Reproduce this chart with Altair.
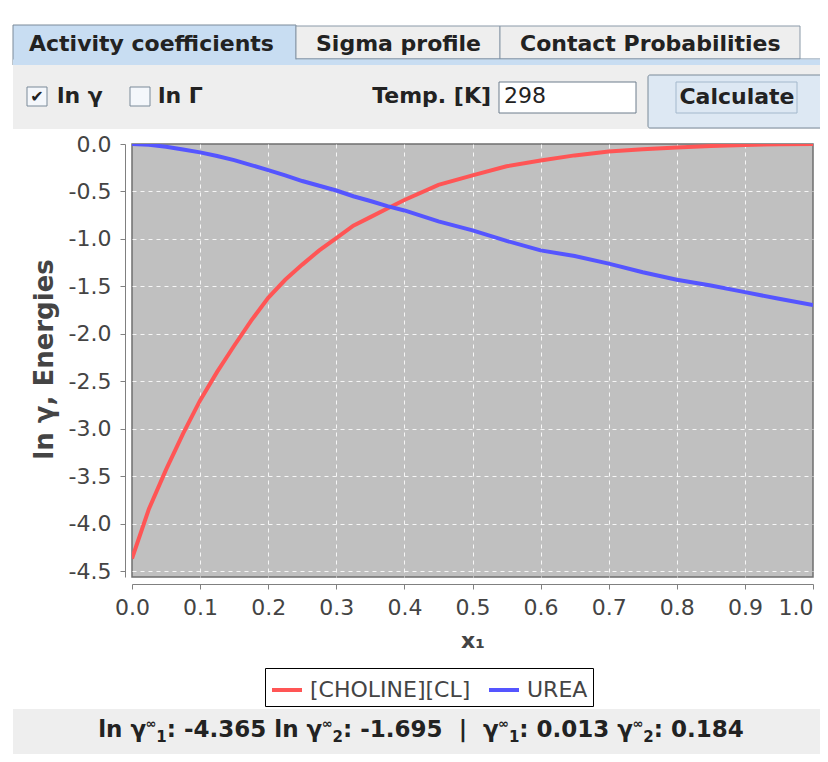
import altair as alt
import pandas as pd

# ---------------- data ----------------
names = ["[CHOLINE][CL]", "UREA"]
colors = ["#ff5555", "#5555ff"]

x1 = [0.0, 0.025, 0.05, 0.075, 0.10, 0.125, 0.15, 0.175, 0.20, 0.225, 0.25,
      0.275, 0.30, 0.325, 0.35, 0.375, 0.40, 0.45, 0.50, 0.55, 0.60, 0.65,
      0.70, 0.75, 0.80, 0.85, 0.90, 0.95, 1.0]
ln_gamma_choline = [-4.365, -3.84, -3.43, -3.05, -2.70, -2.40, -2.125, -1.86,
                    -1.62, -1.43, -1.27, -1.12, -0.99, -0.86, -0.77, -0.68,
                    -0.59, -0.43, -0.33, -0.235, -0.174, -0.12, -0.08, -0.055,
                    -0.038, -0.022, -0.01, -0.003, 0.0]
ln_gamma_urea = [0.0, -0.008, -0.03, -0.057, -0.088, -0.126, -0.17, -0.222,
                 -0.275, -0.33, -0.39, -0.44, -0.49, -0.55, -0.60, -0.655,
                 -0.70, -0.815, -0.91, -1.02, -1.12, -1.18, -1.26, -1.35,
                 -1.43, -1.49, -1.56, -1.63, -1.695]

x_ticks = [0.0, 0.1, 0.2, 0.3, 0.4, 0.5, 0.6, 0.7, 0.8, 0.9, 1.0]
y_ticks = [-4.5, -4.0, -3.5, -3.0, -2.5, -2.0, -1.5, -1.0, -0.5, 0.0]
y_domain = [-4.56, 0.0]

ln_gamma_inf = [-4.365, -1.695]
gamma_inf = [0.013, 0.184]

tab_labels = ["Activity coefficients", "Sigma profile", "Contact Probabilities"]
check_labels = ["ln γ", "ln Γ"]
temp_label = "Temp. [K]"
temp_value = "298"
button_label = "Calculate"

# ---------------- layout helpers ----------------
FONT = "DejaVu Sans"
OX, OY = 132, 144          # window position of the plot origin
W, H = 681, 433            # plot area
TOTAL_W, TOTAL_H = 812, 746
PAD = {"left": OX - 8, "top": OY - 8,
       "right": TOTAL_W - (OX - 8) - W, "bottom": TOTAL_H - (OY - 8) - H}


def px(v):
    return v - OX


def py(v):
    return v - OY


one = pd.DataFrame({"k": [0]})


def box(xa, xb, ya, yb, fill, stroke=None, sw=1.0, radius=0, fill_opacity=1.0):
    kw = dict(fill=fill, fillOpacity=fill_opacity, cornerRadius=radius)
    if stroke:
        kw.update(stroke=stroke, strokeWidth=sw)
    return alt.Chart(one).mark_rect(**kw).encode(
        x=alt.value(px(xa)), x2=alt.value(px(xb)),
        y=alt.value(py(ya)), y2=alt.value(py(yb)))


def txt(s, x, y, size=22, bold=True, align="left", color="#222222",
        baseline="alphabetic"):
    return alt.Chart(one).mark_text(
        text=s, align=align, baseline=baseline, font=FONT, fontSize=size,
        fontWeight="bold" if bold else "normal", color=color
    ).encode(x=alt.value(px(x)), y=alt.value(py(y)))


# ---------------- GUI chrome ----------------
chrome = [
    box(13, 296, 25, 65, "#c8ddf2", "#7a8a99"),
    box(296, 500, 26, 59, "#eeeeee", "#8a99a8"),
    box(500, 800, 26, 59, "#eeeeee", "#8a99a8"),
    box(296, 828, 58.5, 59.5, "#7a8fa6"),
    box(13, 828, 59.5, 65, "#c8ddf2"),
    box(13, 828, 65, 129, "#eeeeee"),
    box(13, 828, 709, 762, "#eeeeee"),
    txt(tab_labels[0], 29, 51),
    txt(tab_labels[1], 316, 51),
    txt(tab_labels[2], 520, 51),
    box(27, 47, 87, 106, "#f4f7fb", "#7a8a99"),
    txt("✔", 37, 97, size=16, align="center", baseline="middle"),
    txt(check_labels[0], 57, 103),
    box(130, 150, 87, 106, "#f4f7fb", "#7a8a99"),
    txt(check_labels[1], 158, 103),
    txt(temp_label, 491, 103, align="right"),
    box(499, 636, 82, 113, "#ffffff", "#6d7d8c"),
    txt(temp_value, 504, 103, bold=False),
    box(648, 826, 75, 128, "#dde8f3", "#7a8a99", radius=2),
    box(676, 797, 82, 113, "#ffffff", "#a3b8cc", fill_opacity=0.0),
    txt(button_label, 737, 104, align="center"),
]

# status bar text with superscript infinity and subscript indices
BW = {" ": 0.348, ":": 0.402, "-": 0.416, ".": 0.381, "l": 0.343,
      "n": 0.712, "γ": 0.652, "|": 0.364, "∞": 0.838}


def tw(s, size):
    return sum(BW.get(c, 0.696) for c in s) * size


NS, SUP, SUB = 23, 13, 15
segs = [
    ("ln γ", "n"), ("∞", "sup"), ("1", "sub"),
    (f": {ln_gamma_inf[0]:.3f} ln γ", "n"), ("∞", "sup"), ("2", "sub"),
    (f": {ln_gamma_inf[1]:.3f}", "n"), ("  ", "gap"), ("|", "n"), ("  ", "gap"),
    ("γ", "n"), ("∞", "sup"), ("1", "sub"),
    (f": {gamma_inf[0]:.3f} γ", "n"), ("∞", "sup"), ("2", "sub"),
    (f": {gamma_inf[1]:.3f}", "n"),
]
sizes = {"n": NS, "gap": NS, "sup": SUP, "sub": SUB}
total = sum(tw(s, sizes[k]) for s, k in segs)
cur = 421 - total / 2
BASE = 737
for s, k in segs:
    if k != "gap":
        yb = {"n": BASE, "sup": BASE - 9, "sub": BASE + 5}[k]
        chrome.append(txt(s, cur, yb, size=sizes[k], color="#222222"))
    cur += tw(s, sizes[k])

# ---------------- chart ----------------
df = pd.DataFrame({
    "x1": x1 + x1,
    "value": ln_gamma_choline + ln_gamma_urea,
    "series": [names[0]] * len(x1) + [names[1]] * len(x1),
})

EXPR = "replace(format(datum.value, '.1f'), '\u2212', '-')"
common_axis = dict(
    labelExpr=EXPR, offset=7, tickSize=5, tickColor="#808080",
    domainColor="#808080", domainWidth=1, labelFont=FONT, labelFontSize=22,
    labelColor="#444444", titleFont=FONT, titleFontWeight="bold",
    titleColor="#444444", grid=True, gridColor="#ffffff", gridDash=[4, 4],
    gridWidth=1, labelOverlap=False,
)

x_grid_op = {"condition": {"test": "datum.value <= 0 || datum.value >= 1", "value": 0},
             "value": 0.85}
y_grid_op = {"condition": {"test": "datum.value >= 0", "value": 0}, "value": 0.85}
x_label_align = {"condition": {"test": "datum.value >= 1", "value": "right"},
                 "value": "center"}

lines = alt.Chart(df).mark_line(strokeWidth=4, clip=True).encode(
    x=alt.X("x1:Q", scale=alt.Scale(domain=[0, 1], nice=False),
            axis=alt.Axis(values=x_ticks, labelFlush=False, labelPadding=8,
                          labelAlign=x_label_align,
                          title="x₁", titleFontSize=22, titleY=56,
                          titleBaseline="middle", gridOpacity=x_grid_op,
                          **common_axis)),
    y=alt.Y("value:Q", scale=alt.Scale(domain=y_domain, nice=False, zero=False),
            axis=alt.Axis(values=y_ticks, labelPadding=9,
                          title="ln γ, Energies", titleFontSize=26,
                          titleX=-81, titleY=215, titleAngle=270,
                          titleAlign="center", titleBaseline="middle",
                          gridOpacity=y_grid_op, **common_axis)),
    color=alt.Color("series:N", scale=alt.Scale(domain=names, range=colors),
                    legend=alt.Legend(
                        orient="none", legendX=px(265), legendY=py(668),
                        direction="horizontal", title=None,
                        symbolType="stroke", symbolSize=900,
                        symbolStrokeWidth=4, labelFont=FONT,
                        labelFontSize=22, labelColor="#444444",
                        strokeColor="#000000", fillColor="#ffffff",
                        padding=5, columnPadding=10, labelOffset=6,
                        labelLimit=400)),
)

chart = alt.layer(*chrome, lines).properties(
    width=W, height=H,
    padding=PAD,
    autosize=alt.AutoSizeParams(type="none"),
    background="#ffffff",
).configure_view(fill="#c0c0c0", stroke="#6f6f6f", strokeWidth=1.5)

chart.save("out.html", embed_options={"renderer": "svg", "actions": False})
